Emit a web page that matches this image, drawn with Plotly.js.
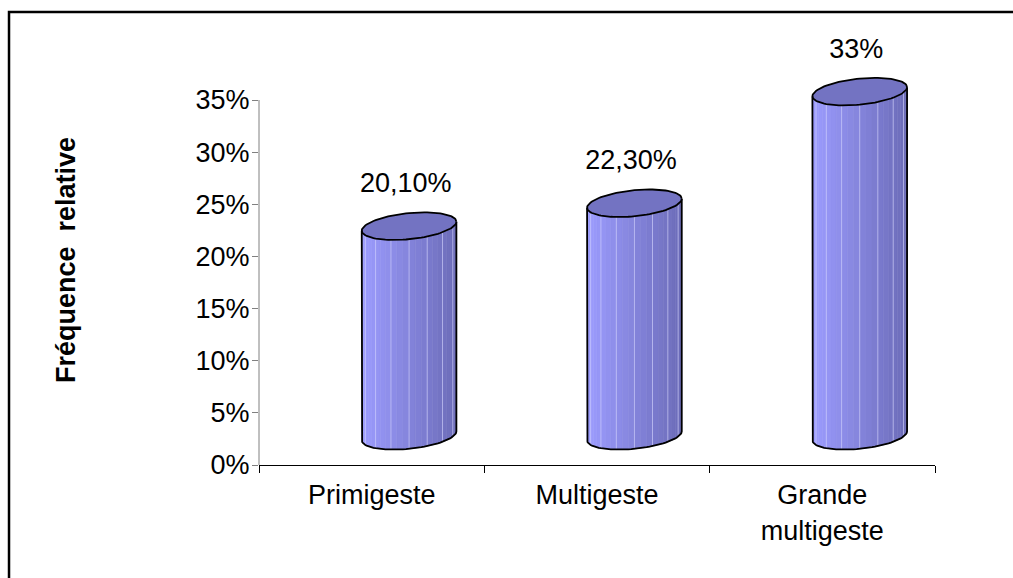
<!DOCTYPE html>
<html>
<head>
<meta charset="utf-8">
<script src="https://cdn.plot.ly/plotly-3.0.1.min.js"></script>
<style>
  html, body { margin: 0; padding: 0; background: #ffffff; }
  #chart { width: 1013px; height: 578px; }
</style>
</head>
<body>
<div id="chart"></div>
<script>
// Data
const categories = ["Primigeste", "Multigeste", "Grande<br>multigeste"];
const values = [20.1, 22.3, 33];
const valueLabels = ["20,10%", "22,30%", "33%"];
const yTicks = [0, 5, 10, 15, 20, 25, 30, 35];
const yTickLabels = yTicks.map(v => v + "%");

// Cylinder geometry, in axis units (x: category index, y: percent)
const DEPTH_X = 0.166;   // oblique depth shift to the right
const DEPTH_Y = 2.8;     // oblique depth shift upward
const RX = 0.21;         // horizontal half-width of a cylinder
const RY = 1.25;         // vertical half-height of the end ellipses
const TILT = 0.43;       // the right side of each ellipse sits higher
const BANDS = 24;        // shading bands on the front face
const SEAM_EVERY = 3;    // a faint highlight line every few bands
const LABEL_GAP = 3.9;   // value label above the top face
const FONT = "Liberation Sans, Arial, sans-serif";

const LIGHT = [156, 156, 255];
const DARK = [108, 108, 184];
const TOP_FILL = "#7373c2";

function ellX(cx, t) { return cx + RX * Math.cos(t); }
function ellY(cy, t) { return cy + RY * Math.sin(t) + TILT * Math.cos(t); }
function mix(a, b, f) {
  return "rgb(" + a.map((c, k) => Math.round(c + (b[k] - c) * f)).join(",") + ")";
}

const traces = [];
const base = { type: "scatter", mode: "lines", hoverinfo: "skip", showlegend: false };

values.forEach((v, i) => {
  const cx = i + DEPTH_X;
  const y0 = DEPTH_Y;
  const y1 = v + DEPTH_Y;

  // front face, built from vertical bands
  for (let s = 0; s < BANDS; s++) {
    const ta = Math.PI + Math.PI * s / BANDS;
    const tb = Math.PI + Math.PI * (s + 1) / BANDS;
    const xs = [], ys = [];
    const n = 4;
    for (let k = 0; k <= n; k++) {
      const t = ta + (tb - ta) * k / n;
      xs.push(ellX(cx, t)); ys.push(ellY(y0, t));
    }
    for (let k = n; k >= 0; k--) {
      const t = ta + (tb - ta) * k / n;
      xs.push(ellX(cx, t)); ys.push(ellY(y1, t));
    }
    xs.push(xs[0]); ys.push(ys[0]);
    const mid = (ellX(cx, (ta + tb) / 2) - (cx - RX)) / (2 * RX);
    const c = mix(LIGHT, DARK, mid);
    traces.push(Object.assign({}, base, {
      x: xs, y: ys, fill: "toself", fillcolor: c,
      line: { color: c, width: 0.6 }
    }));
  }

  // faint vertical highlights between groups of bands
  const sx = [], sy = [];
  for (let s = SEAM_EVERY; s < BANDS; s += SEAM_EVERY) {
    const t = Math.PI + Math.PI * s / BANDS;
    sx.push(ellX(cx, t), ellX(cx, t), null);
    sy.push(ellY(y0, t), ellY(y1, t), null);
  }
  traces.push(Object.assign({}, base, {
    x: sx, y: sy, connectgaps: false,
    line: { color: "rgba(215,215,255,0.6)", width: 1 }
  }));

  // outline: left side, bottom front arc, right side
  const ox = [ellX(cx, Math.PI)], oy = [ellY(y1, Math.PI)];
  const m = 48;
  for (let k = 0; k <= m; k++) {
    const t = Math.PI + Math.PI * k / m;
    ox.push(ellX(cx, t)); oy.push(ellY(y0, t));
  }
  ox.push(ellX(cx, 2 * Math.PI)); oy.push(ellY(y1, 2 * Math.PI));
  traces.push(Object.assign({}, base, {
    x: ox, y: oy, line: { color: "#000000", width: 1.8 }
  }));

  // top face
  const tx = [], ty = [];
  for (let k = 0; k <= 2 * m; k++) {
    const t = 2 * Math.PI * k / (2 * m);
    tx.push(ellX(cx, t)); ty.push(ellY(y1, t));
  }
  traces.push(Object.assign({}, base, {
    x: tx, y: ty, fill: "toself", fillcolor: TOP_FILL,
    line: { color: "#000000", width: 1.8 }
  }));
});

// value labels above each cylinder
traces.push({
  type: "scatter", mode: "text", hoverinfo: "skip", showlegend: false,
  x: values.map((v, i) => i + DEPTH_X - 0.015),
  y: values.map(v => v + DEPTH_Y + LABEL_GAP),
  text: valueLabels, textposition: "middle center", cliponaxis: false,
  textfont: { family: FONT, size: 27, color: "#000000" }
});

const layout = {
  width: 1013, height: 578,
  margin: { l: 259, r: 78, t: 27, b: 113, pad: 0 },
  paper_bgcolor: "#ffffff", plot_bgcolor: "#ffffff",
  showlegend: false,
  font: { family: FONT, size: 27, color: "#000000" },
  xaxis: {
    range: [-0.5, 2.5], fixedrange: true,
    tickmode: "array", tickvals: categories.map((c, i) => i), ticktext: categories,
    ticks: "", showgrid: false, zeroline: false, ticklabelstandoff: 6,
    showline: true, linecolor: "#000000", linewidth: 1,
    tickfont: { family: FONT, size: 27, color: "#000000" },
    minor: {
      tickmode: "array", tickvals: [-0.5, 0.5, 1.5, 2.5],
      ticks: "outside", ticklen: 7, tickwidth: 1, tickcolor: "#000000", showgrid: false
    }
  },
  yaxis: {
    range: [0, 42], fixedrange: true,
    tickmode: "array", tickvals: yTicks, ticktext: yTickLabels,
    ticks: "outside", ticklen: 6, tickwidth: 1, tickcolor: "#808080",
    ticklabelstandoff: -3,
    showgrid: false, zeroline: false, showline: false,
    tickfont: { family: FONT, size: 27, color: "#000000" }
  },
  shapes: [
    // value axis line, from 0% to 35%
    { type: "line", xref: "paper", yref: "y", x0: 0, x1: 0, y0: 0, y1: 35,
      line: { color: "#808080", width: 1 } },
    // chart frame
    { type: "rect", xref: "paper", yref: "paper", x0: -0.3698, x1: 1.5, y0: -1, y1: 1.0342,
      line: { color: "#000000", width: 2.5 }, fillcolor: "rgba(0,0,0,0)" }
  ],
  annotations: [
    { text: "<b>Fréquence  relative</b>", xref: "paper", yref: "paper",
      x: -0.2855, y: 0.468, textangle: -90, showarrow: false,
      xanchor: "center", yanchor: "middle",
      font: { family: FONT, size: 27, color: "#000000" } }
  ]
};

Plotly.newPlot("chart", traces, layout, { staticPlot: true, displayModeBar: false });
</script>
</body>
</html>
